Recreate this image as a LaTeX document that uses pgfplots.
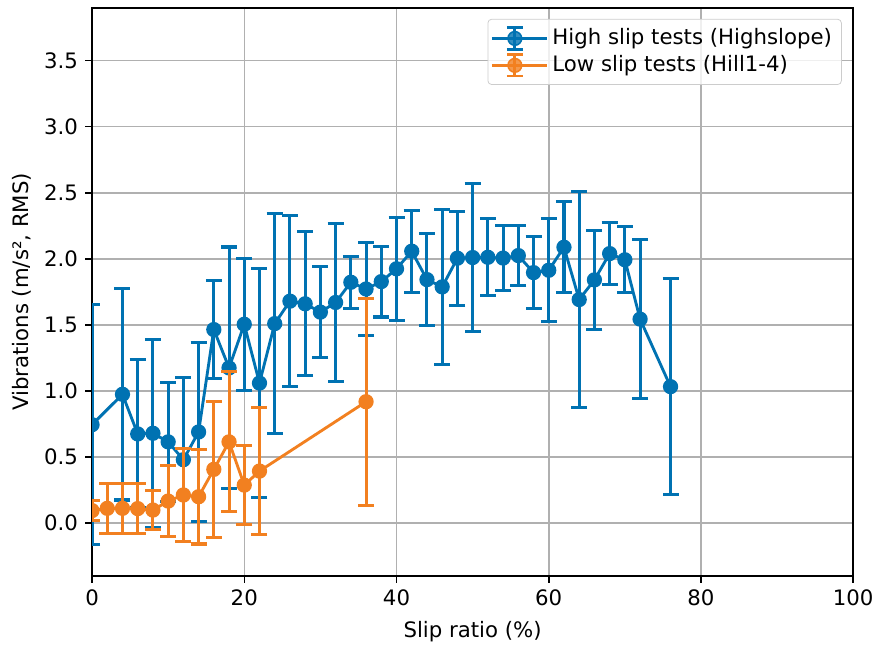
\documentclass[border=0pt]{standalone}
\usepackage{fontspec}
\setmainfont{DejaVu Sans}
\usepackage{pgfplots}
\pgfplotsset{compat=1.18}

\definecolor{cblue}{RGB}{0,114,178}
\definecolor{corange}{RGB}{242,128,32}

% legend sample: line, marker and a capped vertical error bar
\pgfplotsset{
  errlegend/.style={
    legend image code/.code={
      \path (1.6bp,0bp) -- (29bp,0bp);
      \draw[##1, mark=none, overlay] (0bp,0bp) -- (24bp,0bp);
      \draw[##1, mark=none, overlay] (12bp,-5.6bp) -- (12bp,5.6bp)
        (7.8bp,-5.6bp) -- (16.2bp,-5.6bp) (7.8bp,5.6bp) -- (16.2bp,5.6bp);
      \draw[##1, overlay] plot coordinates {(12bp,0bp)};
    }
  }
}

\begin{document}
\fontsize{11.2}{13.4}\selectfont
\begin{tikzpicture}
\begin{axis}[
  scale only axis, width=399.5bp, height=298.2bp,
  xmin=0, xmax=100, ymin=-0.4, ymax=3.9,
  xtick={0,20,40,60,80,100},
  ytick={0,0.5,1,1.5,2,2.5,3,3.5},
  yticklabel style={/pgf/number format/.cd, fixed, fixed zerofill, precision=1},
  /pgf/number format/assume math mode=true,
  tick label style={font=\fontsize{11.2}{13.4}\selectfont},
  grid=major,
  major grid style={color=black!31, line width=0.8bp},
  axis line style={line width=0.8bp},
  tick style={line width=0.8bp, black},
  tick align=outside, major tick length=3.5bp,
  tick pos=left,
  xlabel={Slip ratio (\%)},
  ylabel={Vibrations (m/s², RMS)},
  every axis x label/.style={at={(axis description cs:0.5,-0.0986)}, anchor=center},
  every axis y label/.style={at={(axis description cs:-0.092,0.5)}, rotate=90, anchor=center},
  label style={font=\fontsize{11.2}{13.4}\selectfont},
  clip marker paths=true,
  error bars/y dir=both, error bars/y explicit,
  error bars/error mark=|,
  legend style={at={(1,1)}, anchor=north east, xshift=-6bp, yshift=-5.8bp,
    draw=black!20, rounded corners=2bp, fill=white, fill opacity=0.8, text opacity=1,
    font=\fontsize{11.2}{13.4}\selectfont, row sep=0bp, inner sep=3bp},
  legend cell align=left,
]
\addplot+[cblue, solid, line width=1.5bp, mark=*, mark size=3.6bp,
  mark options={fill=cblue, draw=cblue, solid, line width=0.8bp},
  error bars/error bar style={line width=1.6bp, cblue},
  error bars/error mark options={mark size=4.2bp, line width=1.6bp, cblue},
  errlegend]
coordinates {
(0,0.745) +- (0,0.91)
(4,0.975) +- (0,0.80)
(6,0.675) +- (0,0.56)
(8,0.68) +- (0,0.71)
(10,0.615) +- (0,0.45)
(12,0.48) +- (0,0.62)
(14,0.69) +- (0,0.675)
(16,1.465) +- (0,0.37)
(18,1.175) +- (0,0.915)
(20,1.505) +- (0,0.50)
(22,1.06) +- (0,0.865)
(24,1.51) +- (0,0.835)
(26,1.68) +- (0,0.648)
(28,1.66) +- (0,0.545)
(30,1.597) +- (0,0.345)
(32,1.67) +- (0,0.595)
(34,1.823) +- (0,0.198)
(36,1.772) +- (0,0.352)
(38,1.828) +- (0,0.268)
(40,1.925) +- (0,0.39)
(42,2.058) +- (0,0.31)
(44,1.843) +- (0,0.348)
(46,1.788) +- (0,0.585)
(48,2.005) +- (0,0.355)
(50,2.01) +- (0,0.563)
(52,2.012) +- (0,0.29)
(54,2.006) +- (0,0.246)
(56,2.025) +- (0,0.227)
(58,1.896) +- (0,0.275)
(60,1.914) +- (0,0.39)
(62,2.088) +- (0,0.343)
(64,1.692) +- (0,0.82)
(66,1.841) +- (0,0.372)
(68,2.04) +- (0,0.236)
(70,1.993) +- (0,0.25)
(72,1.544) +- (0,0.603)
(76,1.033) +- (0,0.815)
};
\addlegendentry{High slip tests (Highslope)}

\addplot+[corange, solid, line width=1.5bp, mark=*, mark size=3.6bp,
  mark options={fill=corange, draw=corange, solid, line width=0.8bp},
  error bars/error bar style={line width=1.6bp, corange},
  error bars/error mark options={mark size=4.2bp, line width=1.6bp, corange},
  errlegend]
coordinates {
(0,0.095) +- (0,0.075)
(2,0.112) +- (0,0.19)
(4,0.112) +- (0,0.19)
(6,0.11) +- (0,0.19)
(8,0.099) +- (0,0.15)
(10,0.167) +- (0,0.27)
(12,0.213) +- (0,0.352)
(14,0.20) +- (0,0.358)
(16,0.407) +- (0,0.513)
(18,0.615) +- (0,0.53)
(20,0.288) +- (0,0.298)
(22,0.394) +- (0,0.482)
(36,0.919) +- (0,0.784)
};
\addlegendentry{Low slip tests (Hill1-4)}
\end{axis}
\pgfresetboundingbox
\path[use as bounding box] ([xshift=-48.3bp,yshift=-37.3bp]current axis.south west) rectangle ++(460.8bp,339.6bp);
\end{tikzpicture}
\end{document}
